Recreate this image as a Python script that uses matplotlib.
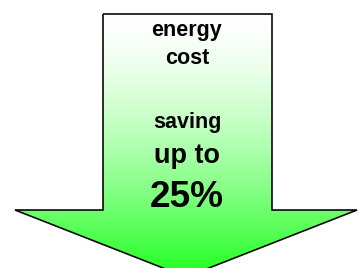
import numpy as np
import matplotlib.pyplot as plt
from matplotlib.patches import Polygon

# arrow outline (pixel coords, y downward)
arrow_x = [103, 272, 272, 357, 186, 15, 103]
arrow_y = [14, 14, 210, 210, 277, 210, 210]

labels = ['energy', 'cost', 'saving', 'up to', '25%']
label_y = [36, 64, 128, 163, 207]
label_size = [21.5, 21.5, 21.5, 27, 37]

W, H = 358, 268
fig = plt.figure(figsize=(W / 72, H / 72), dpi=72)
ax = fig.add_axes([0, 0, 1, 1])
ax.set_xlim(0, W)
ax.set_ylim(H, 0)
ax.axis('off')

# vertical gradient white -> green, lighter at the top
top, bot = 14, 277
t = np.linspace(0, 1, 256)[:, None] ** 1.5
c_top = np.array([1.0, 1.0, 1.0])
c_bot = np.array([0.12, 1.0, 0.12])
grad = (1 - t)[..., None] * c_top + t[..., None] * c_bot
grad = np.repeat(grad, 2, axis=1)
img = ax.imshow(grad, extent=[0, W, bot, top], aspect='auto', zorder=1)

poly = Polygon(np.column_stack([arrow_x, arrow_y]), closed=True,
               facecolor='none', edgecolor='black', lw=1.6, zorder=2,
               joinstyle='miter')
ax.add_patch(poly)
img.set_clip_path(poly)

for s, y, fs in zip(labels, label_y, label_size):
    ax.text(187, y, s, ha='center', va='baseline', fontsize=fs,
            fontweight='bold', family='Liberation Sans', color='black', zorder=3)

ax.set_xlim(0, W)
ax.set_ylim(H, 0)
fig.savefig('out.png', dpi=72)
